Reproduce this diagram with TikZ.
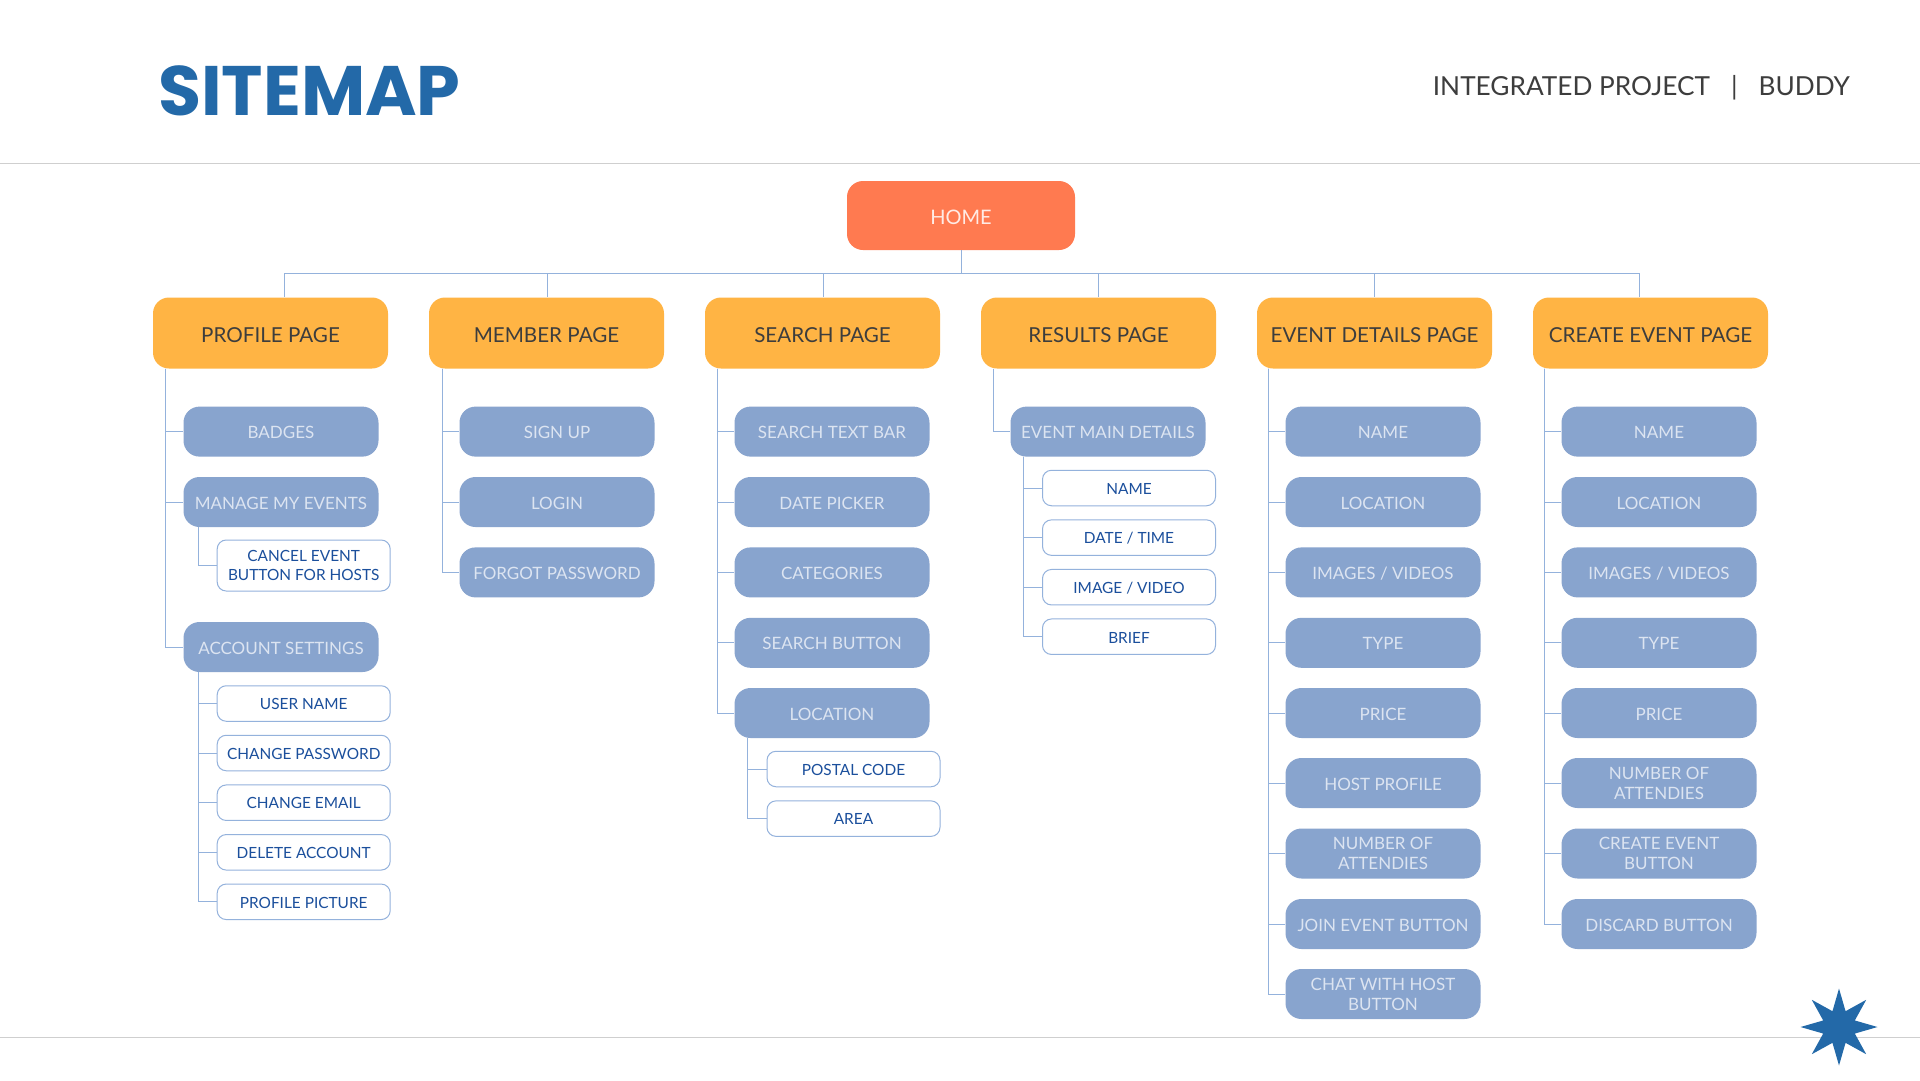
\documentclass[tikz,border=0pt]{standalone}
\usepackage{fontspec}
\usepackage{xcolor}
\usetikzlibrary{shapes.geometric}
\setmainfont{Lato}
\newfontfamily\titlefont{Poppins}
\definecolor{homeorange}{HTML}{FF7A50}
\definecolor{pageamber}{HTML}{FFB444}
\definecolor{itemblue}{HTML}{88A4CE}
\definecolor{linkblue}{HTML}{94B2DC}
\definecolor{itemtext}{HTML}{DCE4F1}
\definecolor{subtext}{HTML}{1B4F9C}
\definecolor{inkgray}{HTML}{3D3D3D}
\definecolor{titleblue}{HTML}{2369A8}
\definecolor{rulegray}{HTML}{CFCFCF}

\begin{document}
\begin{tikzpicture}[
  x=1pt, y=-1pt,
  homebox/.style={fill=homeorange, rounded corners=16pt, minimum width=228pt, minimum height=69pt, inner sep=0pt, execute at begin node={\rule{0pt}{19pt}}, text=white!85!homeorange, font=\fontsize{20}{24}\selectfont},
  pagebox/.style={fill=pageamber, rounded corners=16pt, minimum width=235pt, minimum height=71pt, inner sep=0pt, execute at begin node={\rule{0pt}{18.4pt}}, text=inkgray, font=\fontsize{20.6}{24}\selectfont},
  itembox/.style={fill=itemblue, rounded corners=16pt, minimum width=195pt, minimum height=50pt, inner sep=0pt, align=center, execute at begin node={\rule{0pt}{14.2pt}}, text=itemtext, font=\fontsize{17}{20}\selectfont},
  subbox/.style={draw=linkblue, fill=white, line width=1pt, rounded corners=9pt, minimum width=173pt, minimum height=35.5pt, inner sep=0pt, align=center, execute at begin node={\rule{0pt}{12.6pt}}, text=subtext, font=\fontsize{15.4}{18.5}\selectfont},
  link/.style={draw=linkblue, line width=1pt},
  rule/.style={draw=rulegray, line width=1pt}
]
\useasboundingbox (0,0) rectangle (1920,1080);
\fill[white] (0,0) rectangle (1920,1080);

\draw[rule] (0,163) -- (1920,163);
\draw[rule] (0,1037) -- (1920,1037);

\node[anchor=west, inner sep=0pt, text=titleblue, font=\titlefont\bfseries\fontsize{70}{80}\selectfont] (title) at (158,91) {SITEMAP};
\node[anchor=east, inner sep=0pt, text=inkgray, font=\fontsize{26.2}{32}\selectfont] (project) at (1850,88) {INTEGRATED PROJECT\hspace{21pt}|\hspace{21pt}BUDDY};
\node[star, star points=8, star point ratio=2.25, minimum size=77pt, inner sep=0pt, fill=titleblue] (burst) at (1839,1027) {};

% top level
\node[homebox] (home) at (961,215.5) {HOME};
\node[pagebox] (profile) at (270.5,333) {PROFILE PAGE};
\node[pagebox] (member) at (546.5,333) {MEMBER PAGE};
\node[pagebox] (search) at (822.5,333) {SEARCH PAGE};
\node[pagebox] (results) at (1098.5,333) {RESULTS PAGE};
\node[pagebox] (details) at (1374.5,333) {EVENT DETAILS PAGE};
\node[pagebox] (create) at (1650.5,333) {CREATE EVENT PAGE};

% profile column
\node[itembox] (badges) at (281,431.6) {BADGES};
\node[itembox] (manage) at (281,502) {MANAGE MY EVENTS};
\node[subbox, minimum height=51pt] (cancel) at (303.7,565.5) {CANCEL EVENT\\BUTTON FOR HOSTS};
\node[itembox] (account) at (281,647) {ACCOUNT SETTINGS};
\node[subbox] (username) at (303.7,703.5) {USER NAME};
\node[subbox] (password) at (303.7,753) {CHANGE PASSWORD};
\node[subbox] (email) at (303.7,802.7) {CHANGE EMAIL};
\node[subbox] (delete) at (303.7,852.3) {DELETE ACCOUNT};
\node[subbox] (picture) at (303.7,901.8) {PROFILE PICTURE};

% member column
\node[itembox] (signup) at (557,431.6) {SIGN UP};
\node[itembox] (login) at (557,502) {LOGIN};
\node[itembox] (forgot) at (557,572.4) {FORGOT PASSWORD};

% search column
\node[itembox] (textbar) at (832,431.6) {SEARCH TEXT BAR};
\node[itembox] (datepick) at (832,502) {DATE PICKER};
\node[itembox] (categories) at (832,572.4) {CATEGORIES};
\node[itembox] (searchbtn) at (832,642.8) {SEARCH BUTTON};
\node[itembox] (searchloc) at (832,713) {LOCATION};
\node[subbox] (postal) at (853.5,769) {POSTAL CODE};
\node[subbox] (area) at (853.5,818.6) {AREA};

% results column
\node[itembox] (mainview) at (1108,431.6) {EVENT MAIN DETAILS};
\node[subbox] (mainname) at (1129,488) {NAME};
\node[subbox] (maindate) at (1129,537.6) {DATE / TIME};
\node[subbox] (mainimage) at (1129,587.2) {IMAGE / VIDEO};
\node[subbox] (mainbrief) at (1129,636.7) {BRIEF};

% event details column
\node[itembox] (dname) at (1383,431.6) {NAME};
\node[itembox] (dlocation) at (1383,502) {LOCATION};
\node[itembox] (dimages) at (1383,572.4) {IMAGES / VIDEOS};
\node[itembox] (dtype) at (1383,642.8) {TYPE};
\node[itembox] (dprice) at (1383,713) {PRICE};
\node[itembox] (dhost) at (1383,783) {HOST PROFILE};
\node[itembox] (dattend) at (1383,853.5) {NUMBER OF\\ATTENDIES};
\node[itembox] (djoin) at (1383,924) {JOIN EVENT BUTTON};
\node[itembox] (dchat) at (1383,994) {CHAT WITH HOST\\BUTTON};

% create event column
\node[itembox] (cname) at (1659,431.6) {NAME};
\node[itembox] (clocation) at (1659,502) {LOCATION};
\node[itembox] (cimages) at (1659,572.4) {IMAGES / VIDEOS};
\node[itembox] (ctype) at (1659,642.8) {TYPE};
\node[itembox] (cprice) at (1659,713) {PRICE};
\node[itembox] (cattend) at (1659,783) {NUMBER OF\\ATTENDIES};
\node[itembox] (cbutton) at (1659,853.5) {CREATE EVENT\\BUTTON};
\node[itembox] (cdiscard) at (1659,924) {DISCARD BUTTON};

% bus under home
\coordinate (dropa) at (284,273);
\coordinate (dropb) at (547.4,273);
\coordinate (dropc) at (823,273);
\coordinate (dropd) at (1098,273);
\coordinate (drope) at (1374,273);
\coordinate (dropf) at (1639.6,273);
\draw[link] (home.south) -- (home.south |- dropa);
\draw[link] (dropa) -- (dropf);
\draw[link] (dropa) -- (dropa |- profile.north);
\draw[link] (dropb) -- (dropb |- member.north);
\draw[link] (dropc) -- (dropc |- search.north);
\draw[link] (dropd) -- (dropd |- results.north);
\draw[link] (drope) -- (drope |- details.north);
\draw[link] (dropf) -- (dropf |- create.north);

% trunks
\coordinate (trunka) at (165.3,368.5);
\coordinate (trunkb) at (442,368.5);
\coordinate (trunkc) at (717.5,368.5);
\coordinate (trunkd) at (993,368.5);
\coordinate (trunke) at (1268.6,368.5);
\coordinate (trunkf) at (1544,368.5);
\coordinate (branchm) at (198.4,527);
\coordinate (brancha) at (198.4,672);
\coordinate (branchs) at (747,738);
\coordinate (branchr) at (1023.7,456.6);

\draw[link] (trunka) |- (badges);
\draw[link] (trunka) |- (manage);
\draw[link] (trunka) |- (account);
\draw[link] (branchm) |- (cancel);
\draw[link] (brancha) |- (username);
\draw[link] (brancha) |- (password);
\draw[link] (brancha) |- (email);
\draw[link] (brancha) |- (delete);
\draw[link] (brancha) |- (picture);

\draw[link] (trunkb) |- (signup);
\draw[link] (trunkb) |- (login);
\draw[link] (trunkb) |- (forgot);

\draw[link] (trunkc) |- (textbar);
\draw[link] (trunkc) |- (datepick);
\draw[link] (trunkc) |- (categories);
\draw[link] (trunkc) |- (searchbtn);
\draw[link] (trunkc) |- (searchloc);
\draw[link] (branchs) |- (postal);
\draw[link] (branchs) |- (area);

\draw[link] (trunkd) |- (mainview);
\draw[link] (branchr) |- (mainname);
\draw[link] (branchr) |- (maindate);
\draw[link] (branchr) |- (mainimage);
\draw[link] (branchr) |- (mainbrief);

\draw[link] (trunke) |- (dname);
\draw[link] (trunke) |- (dlocation);
\draw[link] (trunke) |- (dimages);
\draw[link] (trunke) |- (dtype);
\draw[link] (trunke) |- (dprice);
\draw[link] (trunke) |- (dhost);
\draw[link] (trunke) |- (dattend);
\draw[link] (trunke) |- (djoin);
\draw[link] (trunke) |- (dchat);

\draw[link] (trunkf) |- (cname);
\draw[link] (trunkf) |- (clocation);
\draw[link] (trunkf) |- (cimages);
\draw[link] (trunkf) |- (ctype);
\draw[link] (trunkf) |- (cprice);
\draw[link] (trunkf) |- (cattend);
\draw[link] (trunkf) |- (cbutton);
\draw[link] (trunkf) |- (cdiscard);
\end{tikzpicture}
\end{document}
